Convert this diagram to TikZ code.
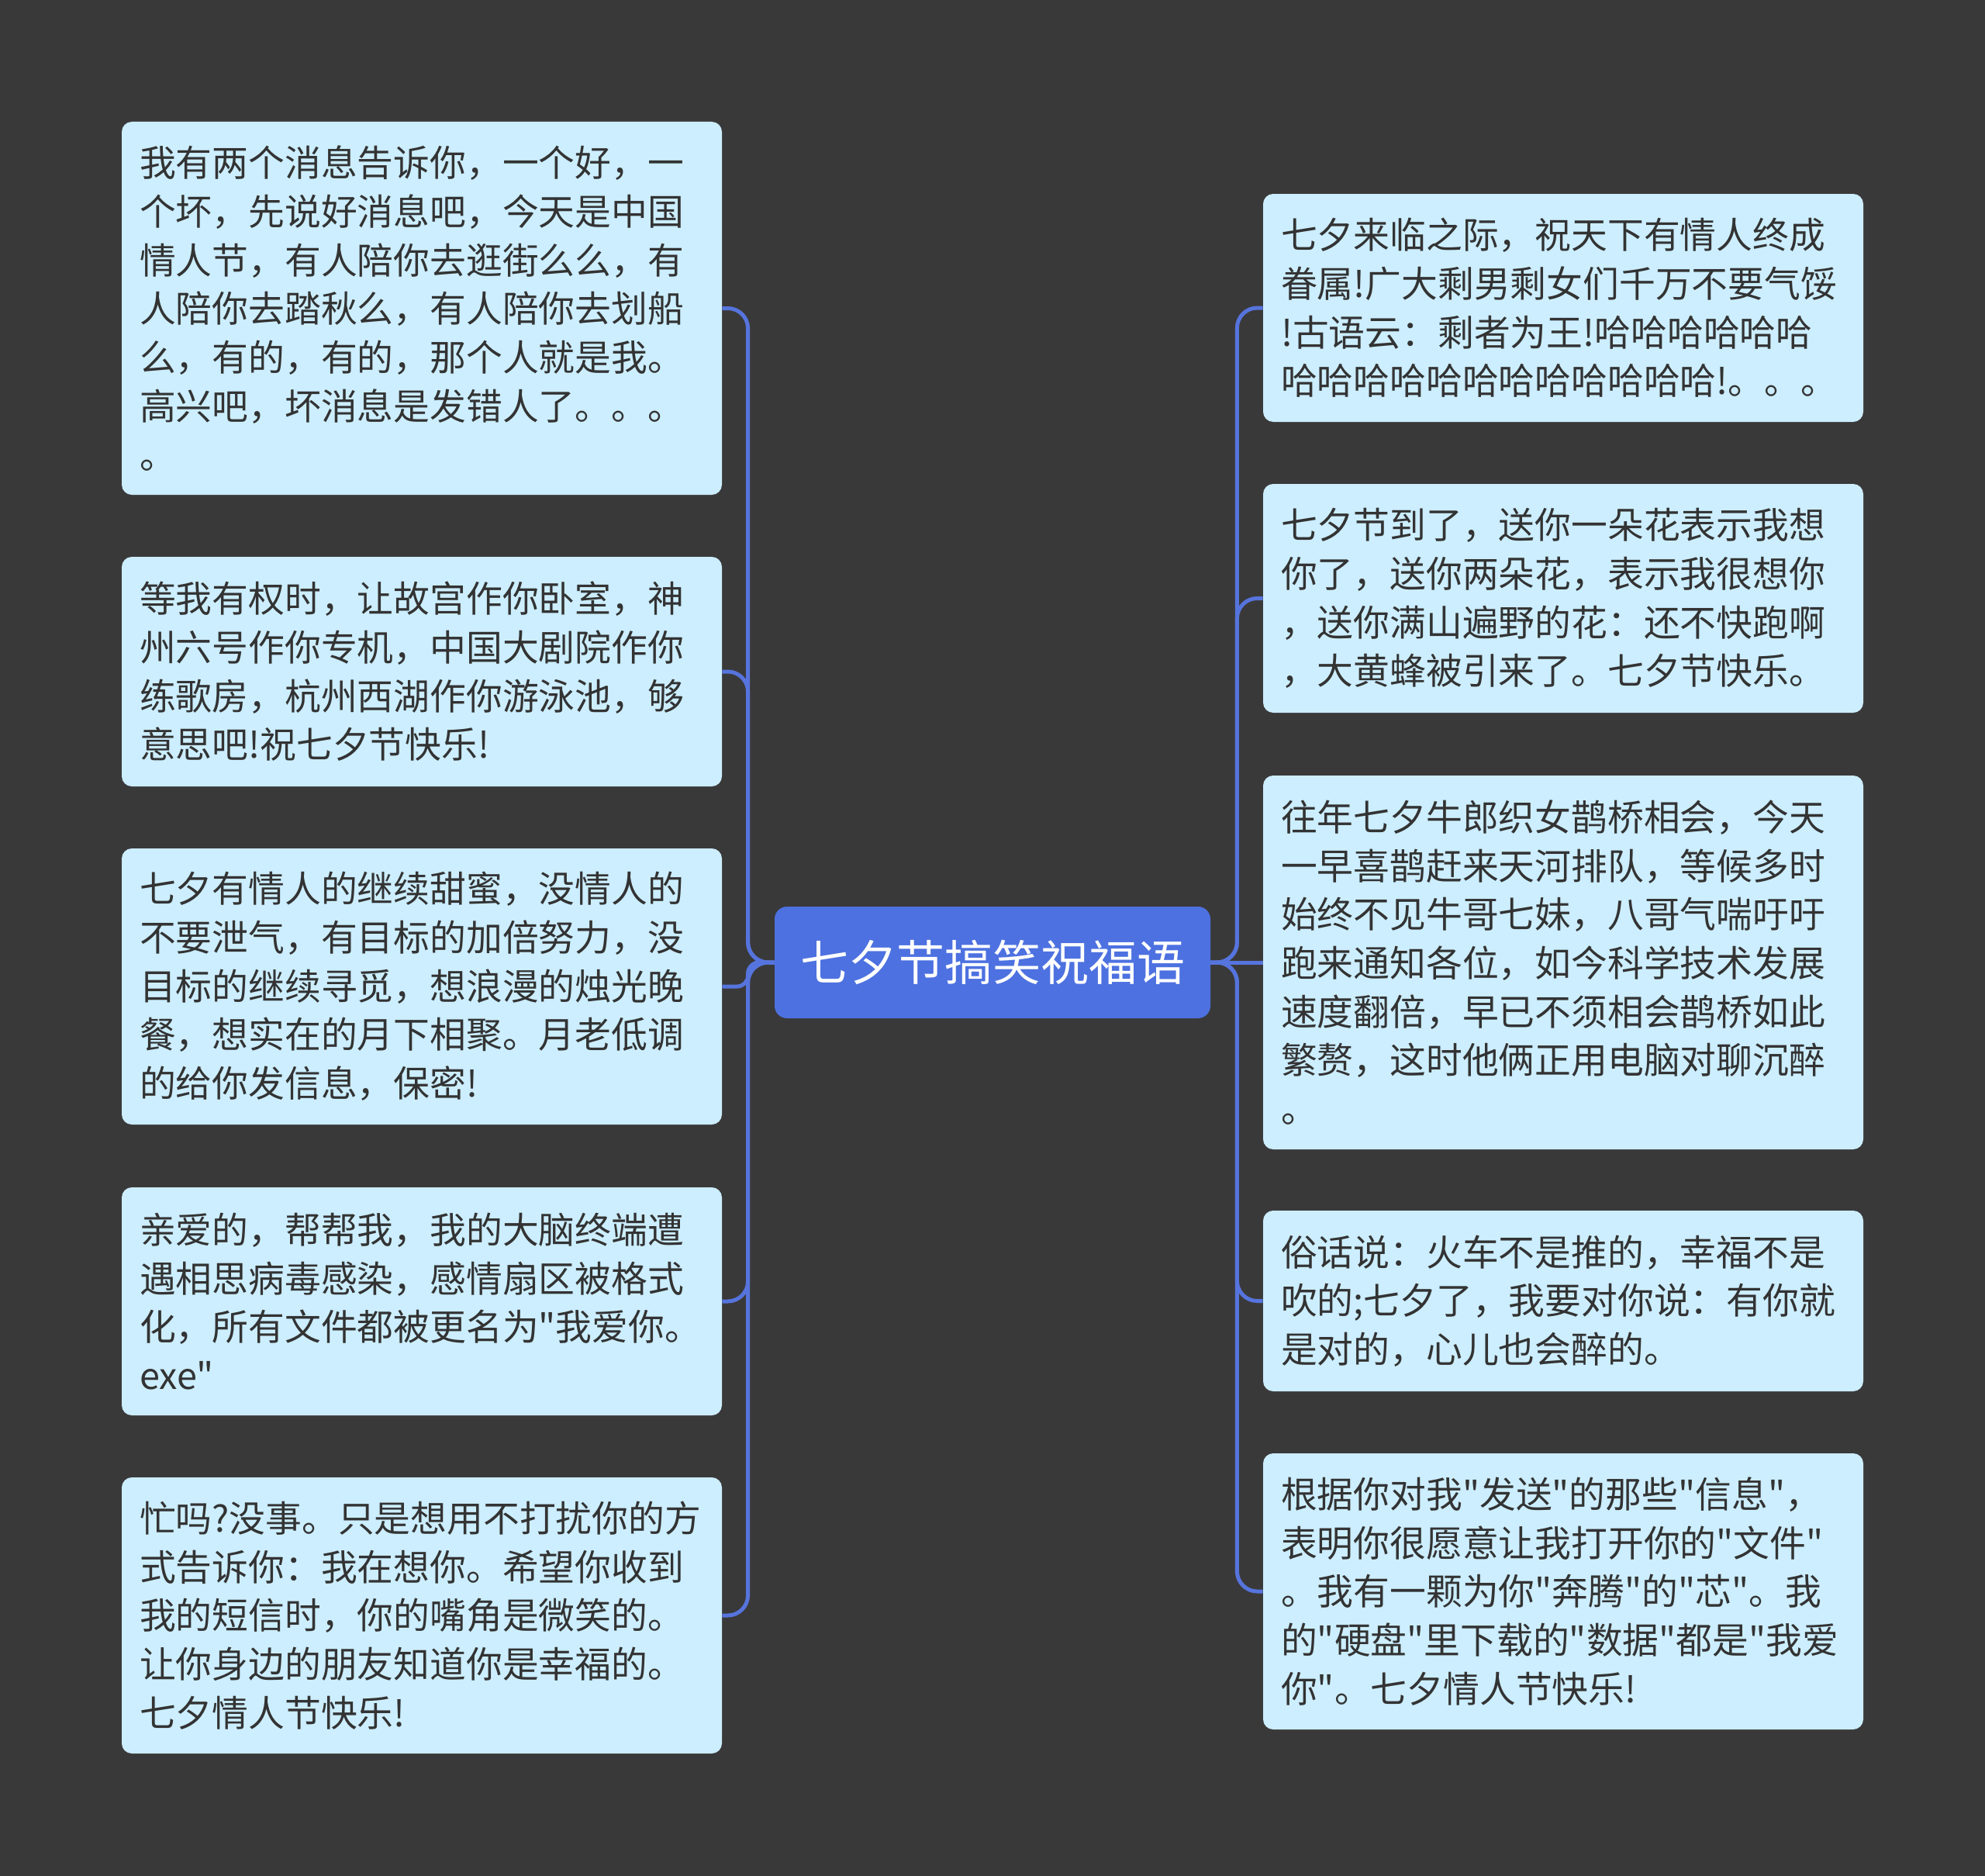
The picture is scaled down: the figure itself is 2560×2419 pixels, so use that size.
\documentclass[tikz,border=0pt]{standalone}
\usepackage{fontspec}
\setmainfont{Noto Sans CJK SC}[Ligatures=TeXOff]
\definecolor{bgc}{HTML}{3A393A}
\definecolor{leafc}{HTML}{CCEEFF}
\definecolor{rootc}{HTML}{4D71E0}
\definecolor{linec}{HTML}{5674DD}
\definecolor{txtc}{HTML}{333333}
\begin{document}
\begin{tikzpicture}[x=0.5pt,y=-0.5pt,
  leaf/.style={fill=leafc, rounded corners=6.5pt, text width=364pt, inner xsep=11.5pt, inner ysep=0pt,
    align=left, text=txtc, font=\fontsize{23.4pt}{31.35pt}\selectfont},
  rootbox/.style={fill=rootc, rounded corners=8pt, minimum width=281pt, minimum height=72pt,
    text=white, font=\fontsize{31pt}{36pt}\selectfont, inner sep=0pt},
  conn/.style={draw=linec, line width=2.5pt, rounded corners=13pt}]
\fill[bgc] (0,0) rectangle (2560,2419);
\useasboundingbox (0,0) rectangle (2560,2419);

\node[rootbox] (c) at (1280,1241) {七夕节搞笑祝福语};

\node[leaf, minimum height=240.5pt] (l1) at (544,397.5) {我有两个消息告诉你，一个好，一\\个坏，先说好消息吧，今天是中国\\情人节，有人陪你去逛街么么，有\\人陪你去踏秋么，有人陪你去划船\\么，有的，有的，那个人就是我。\\高兴吧，坏消息是发错人了。。。\\。};
\node[leaf, minimum height=148pt] (l2) at (544,866) {等我有权时，让故宫作你卧室，神\\州六号作你专机，中国大剧院作你\\练歌房，杭州西湖作你游泳池，够\\意思吧!祝七夕节快乐!};
\node[leaf, minimum height=178pt] (l3) at (544,1272) {七夕有情人的继续甜蜜，没情人的\\不要泄气，有目标的加倍努力，没\\目标的继续寻觅，想浪漫的烛光晚\\餐，想实在的月下相聚。月老低调\\的给你发信息，保密!};
\node[leaf, minimum height=147pt] (l4) at (544,1678) {亲爱的，帮帮我，我的大脑终端遭\\遇相思病毒感染，感情扇区被格式\\化，所有文件都被更名为"我爱你。\\exe"};
\node[leaf, minimum height=178pt] (l5) at (544,2083) {忙吗?没事。只是想用不打扰你的方\\式告诉你：我在想你。希望你收到\\我的短信时，你的嘴角是微笑的。\\让你身边的朋友知道你是幸福的。\\七夕情人节快乐!};

\node[leaf, minimum height=147pt] (r1) at (2016,397) {七夕来临之际，祝天下有情人终成\\眷属!广大剩男剩女们千万不要气馁\\!古语云：剩者为王!哈哈哈哈哈哈\\哈哈哈哈哈哈哈哈哈哈哈哈!。。。};
\node[leaf, minimum height=147.5pt] (r2) at (2016,771.5) {七夕节到了，送你一朵花表示我想\\你了，送你两朵花，表示我很想你\\，送你满山遍野的花：还不快跑啊\\，大黄蜂被引来了。七夕节快乐。};
\node[leaf, minimum height=241pt] (r3) at (2016,1241) {往年七夕牛郎织女鹊桥相会，今天\\一早喜鹊赶来天河排队，等候多时\\始终不见牛哥七妹，八哥气喘吁吁\\跑来通知各位，如今科学技术发展\\速度翻倍，早已不须相会鹊桥如此\\繁赘，这时他俩正用电脑对聊沉醉\\。};
\node[leaf, minimum height=116.5pt] (r4) at (2016,1677.5) {俗话说：火车不是推的，幸福不是\\吹的;七夕了，我要对你说：有你就\\是对的，心儿也会醉的。};
\node[leaf, minimum height=178pt] (r5) at (2016,2052) {根据你对我"发送"的那些"信息"，\\表明你很愿意让我打开你的"文件"\\。我有一颗为你"奔腾"的"芯"。我\\的"硬盘"里下载的"数据"都是"我爱\\你"。七夕情人节快乐!};

\draw[conn] (c.west) -- ++(-34,0) |- (l1.east);
\draw[conn] (c.west) -- ++(-34,0) |- (l2.east);
\draw[conn, rounded corners=7pt] (c.west) -- ++(-34,0) |- (l3.east);
\draw[conn] (c.west) -- ++(-34,0) |- (l4.east);
\draw[conn] (c.west) -- ++(-34,0) |- (l5.east);

\draw[conn] (c.east) -- ++(34,0) |- (r1.west);
\draw[conn] (c.east) -- ++(34,0) |- (r2.west);
\draw[conn] (c.east) -- (r3.west);
\draw[conn] (c.east) -- ++(34,0) |- (r4.west);
\draw[conn] (c.east) -- ++(34,0) |- (r5.west);
\end{tikzpicture}
\end{document}
